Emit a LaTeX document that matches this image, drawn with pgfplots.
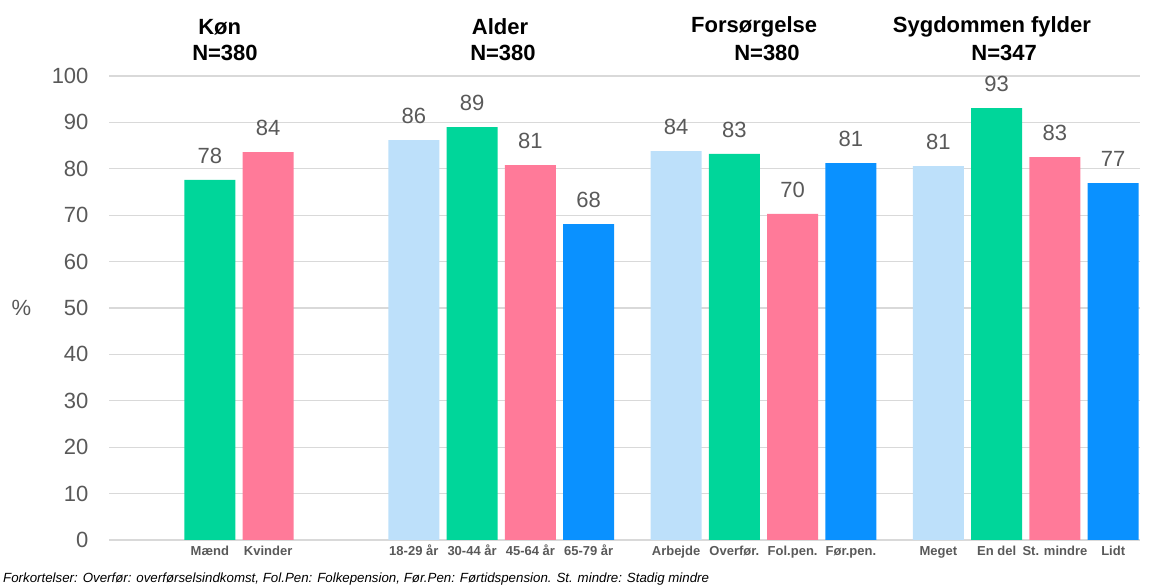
\documentclass[border=0pt]{standalone}
\usepackage{fontspec}
\setmainfont{Liberation Sans}
\usepackage{pgfplots}
\usepackage{pgfplotstable}
\pgfplotsset{compat=1.18}

\definecolor{lblue}{RGB}{189,224,250}
\definecolor{cgreen}{RGB}{0,214,154}
\definecolor{cpink}{RGB}{255,122,153}
\definecolor{cblue}{RGB}{10,145,255}
\definecolor{txtgray}{RGB}{89,89,89}
\definecolor{gridgray}{RGB}{217,217,217}

% x y label
\pgfplotstableread{
x y lab
3.5 86.2 86
8 83.8 84
12.5 80.6 81
}\lightblue
\pgfplotstableread{
x y lab
0 77.6 78
4.5 89.0 89
9 83.2 83
13.5 93.1 93
}\green
\pgfplotstableread{
x y lab
1 83.6 84
5.5 80.8 81
10 70.3 70
14.5 82.5 83
}\pink
\pgfplotstableread{
x y lab
6.5 68.1 68
11 81.2 81
15.5 76.9 77
}\blue

\begin{document}
\begin{tikzpicture}[x=1pt,y=1pt]
\useasboundingbox (0,0) rectangle (1151,588);
\begin{axis}[
  at={(109pt,48pt)}, anchor=south west,
  scale only axis, width=1031pt, height=464pt,
  xmin=-1.73, xmax=15.96, ymin=0, ymax=100,
  ytick={0,10,...,100},
  xtick={0,1,3.5,4.5,5.5,6.5,8,9,10,11,12.5,13.5,14.5,15.5},
  xticklabels={Mænd,Kvinder,18-29 år,30-44 år,45-64 år,65-79 år,Arbejde,Overfør.,Fol.pen.,Før.pen.,Meget,En del,St. mindre,Lidt},
  major tick length=0pt,
  axis line style={draw=none},
  ymajorgrids, grid style={gridgray, line width=1.2pt},
  /pgf/number format/assume math mode=true,
  yticklabel style={font=\fontsize{22}{24}\selectfont, text=txtgray, xshift=-17pt},
  xticklabel style={font=\fontsize{13}{15}\selectfont\bfseries, text=txtgray, inner sep=0pt, anchor=base, yshift=-16pt},
  ylabel={\%}, ylabel style={rotate=-90, font=\fontsize{22}{24}\selectfont, text=txtgray, at={(axis description cs:-0.085,0.5)}, anchor=center},
  clip=false,
  ybar, bar width=51pt,
  nodes near coords, point meta=explicit symbolic,
  every node near coord/.append style={font=\fontsize{22}{24}\selectfont, text=txtgray, yshift=13pt},
]
\addplot[fill=lblue, draw=none, bar shift=0pt] table[x=x, y=y, meta=lab] {\lightblue};
\addplot[fill=cgreen, draw=none, bar shift=0pt] table[x=x, y=y, meta=lab] {\green};
\addplot[fill=cpink, draw=none, bar shift=0pt] table[x=x, y=y, meta=lab] {\pink};
\addplot[fill=cblue, draw=none, bar shift=0pt] table[x=x, y=y, meta=lab] {\blue};

\begin{scope}[every node/.style={font=\fontsize{22}{24}\selectfont\bfseries, inner sep=0pt}]
\node at (axis cs:0.17,110.6) {Køn};
\node at (axis cs:0.26,105.0) {N=380};
\node at (axis cs:4.98,110.6) {Alder};
\node at (axis cs:5.03,105.0) {N=380};
\node at (axis cs:9.34,110.6) {Forsørgelse};
\node at (axis cs:9.56,105.0) {N=380};
\node at (axis cs:13.42,110.6) {Sygdommen fylder};
\node at (axis cs:13.63,105.0) {N=347};
\end{scope}
\end{axis}
\node[anchor=west, inner sep=0pt, font=\fontsize{13.3}{15}\selectfont\itshape] at (3,9) {Forkortelser: Overfør: overførselsindkomst, Fol.Pen: Folkepension, Før.Pen: Førtidspension. St. mindre: Stadig mindre};
\end{tikzpicture}
\end{document}
